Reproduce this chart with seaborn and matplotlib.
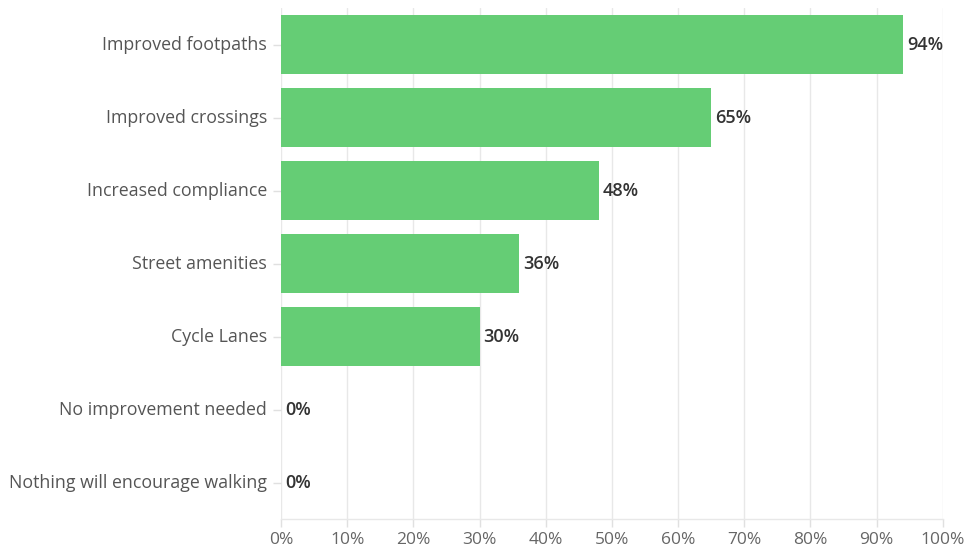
import matplotlib
matplotlib.use("Agg")
import matplotlib.pyplot as plt
import seaborn as sns
import pandas as pd

categories = [
    "Improved footpaths",
    "Improved crossings",
    "Increased compliance",
    "Street amenities",
    "Cycle Lanes",
    "No improvement needed",
    "Nothing will encourage walking",
]
values = [94, 65, 48, 36, 30, 0, 0]
x_ticks = [0, 10, 20, 30, 40, 50, 60, 70, 80, 90, 100]

sns.set_theme(style="white")
plt.rcParams["font.family"] = ["Open Sans", "DejaVu Sans"]

df = pd.DataFrame({"category": categories, "value": values})

fig = plt.figure(figsize=(9.67, 5.49), dpi=100)
ax = fig.add_axes([0.2906, 0.0546, 0.6843, 0.9308])

sns.barplot(data=df, x="value", y="category", orient="h", color="#65cd75",
            saturation=1, width=0.8, linewidth=0, ax=ax, zorder=3)

ax.set_xlim(0, 100)
ax.set_ylim(len(categories) - 0.5, -0.5)
ax.set_xticks(x_ticks)
ax.set_xticklabels([f"{t}%" for t in x_ticks])
ax.set_xlabel("")
ax.set_ylabel("")

ax.grid(axis="x", color="#e8e8e8", linewidth=1, zorder=0)
ax.grid(axis="y", visible=False)
for side in ["top", "right", "left"]:
    ax.spines[side].set_visible(False)
ax.spines["bottom"].set_color("#e8e8e8")
ax.spines["bottom"].set_linewidth(1)

ax.tick_params(axis="x", colors="#e0e0e0", length=6, width=1, labelcolor="#666666",
               labelsize=12.5, pad=3, bottom=True)
ax.tick_params(axis="y", colors="#e0e0e0", length=6, width=1, labelcolor="#555555",
               labelsize=12.8, pad=4, left=True)
for lbl in ax.get_yticklabels():
    lbl.set_verticalalignment("center")

for i, v in enumerate(values):
    ax.text(v + 0.6, i, f"{v}%", va="center", ha="left", fontsize=13,
            fontweight="semibold", color="#333333", zorder=4)

fig.savefig("out.png", dpi=100)
